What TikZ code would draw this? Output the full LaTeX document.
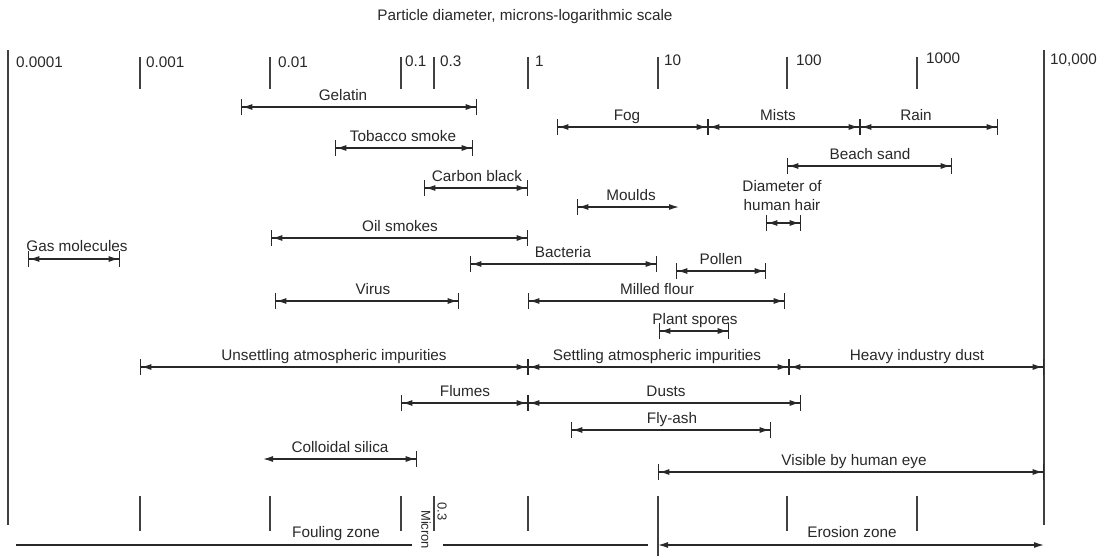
\documentclass[tikz,border=0pt]{standalone}
\usepackage{fontspec}
\setmainfont{Liberation Sans}
\usetikzlibrary{arrows.meta}
\definecolor{ink}{RGB}{40,40,40}
\definecolor{rule}{RGB}{65,65,65}
\tikzset{
  lbl/.style={font=\fontsize{15.3}{18.5}\selectfont, text=ink, inner sep=0pt, anchor=base},
  small/.style={font=\fontsize{13}{15}\selectfont, text=ink, inner sep=0pt},
  axisline/.style={draw=rule, line width=1.6pt},
  ln/.style={draw=ink, line width=1.3pt},
  bb/.style={ln, arrows={Bar[width=16pt]Latex[length=10pt,width=6pt]}-{Latex[length=10pt,width=6pt]Bar[width=16pt]}},
  ba/.style={ln, arrows={Bar[width=16pt]Latex[length=10pt,width=6pt]}-{Latex[length=10pt,width=6pt]}},
  ab/.style={ln, arrows={Latex[length=10pt,width=6pt]}-{Latex[length=10pt,width=6pt]Bar[width=16pt]}},
  aa/.style={ln, arrows={Latex[length=10pt,width=6pt]}-{Latex[length=10pt,width=6pt]}}
}
% #1 style, #2 name, #3 x1, #4 x2, #5 y, #6 label x, #7 label
\newcommand\rangebar[7][bb]{%
  \coordinate (#2-l) at (#3,#5);
  \coordinate (#2-r) at (#4,#5);
  \node[lbl] (#2) at (#6,#5-6.5) {#7};
  \draw[#1] (#2-l) -- (#2-r);
}
\begin{document}
\begin{tikzpicture}[x=1pt,y=-1pt]
\useasboundingbox (0,0) rectangle (1102,556);
% title
\node[lbl] (title) at (525,21) {Particle diameter, microns-logarithmic scale};
% main verticals
\draw[axisline] (8,50) -- (8,525);
\draw[axisline] (1044,50) -- (1044,525);
\foreach \x in {140,270,401,434,528,658,787,917}{
  \draw[axisline] (\x,57) -- (\x,89);
}
\foreach \x in {140,270,401,434,528,787,917}{
  \draw[axisline] (\x,496) -- (\x,531);
}
\draw[axisline] (658,496) -- (658,556);
% scale labels
\node[lbl,anchor=base west] (s1) at (16,68) {0.0001};
\node[lbl,anchor=base west] (s2) at (146,68) {0.001};
\node[lbl,anchor=base west] (s3) at (278,68) {0.01};
\node[lbl,anchor=base west] (s4) at (405,67) {0.1};
\node[lbl,anchor=base west] (s5) at (440,67) {0.3};
\node[lbl,anchor=base west] (s6) at (535,67) {1};
\node[lbl,anchor=base west] (s7) at (664,66) {10};
\node[lbl,anchor=base west] (s8) at (796,66) {100};
\node[lbl,anchor=base west] (s9) at (926,64) {1000};
\node[lbl,anchor=base west] (s10) at (1050,65) {10,000};
% ranges
\rangebar{gel}{241}{477}{107}{343}{Gelatin}
\rangebar{tob}{335}{473}{148}{403}{Tobacco smoke}
\rangebar{carb}{424}{528}{188}{477}{Carbon black}
\rangebar{fog}{557}{708}{127}{627}{Fog}
\rangebar{mist}{708}{860}{127}{778}{Mists}
\rangebar{rain}{860}{998}{127}{916}{Rain}
\rangebar{beach}{787}{952}{166}{870}{Beach sand}
\rangebar[ba]{mould}{577}{679}{207}{631}{Moulds}
\coordinate (hair-l) at (766,223);
\coordinate (hair-r) at (801,223);
\node[lbl,anchor=north,align=center] (hair) at (782,180.5) {Diameter of\\human hair};
\draw[bb] (hair-l) -- (hair-r);
\rangebar{oil}{271}{528}{238}{400}{Oil smokes}
\coordinate (gas-l) at (28,259);
\coordinate (gas-r) at (120,259);
\node[lbl] (gas) at (77,251) {Gas molecules};
\draw[bb] (gas-l) -- (gas-r);
\rangebar{bact}{470}{657}{264}{563}{Bacteria}
\rangebar{pollen}{676}{766}{271}{721}{Pollen}
\rangebar{virus}{275}{459}{301}{373}{Virus}
\rangebar{flour}{528}{785}{301}{657}{Milled flour}
\rangebar{spores}{659}{729}{331}{695}{Plant spores}
\rangebar{unset}{140}{528}{367}{334}{Unsettling atmospheric impurities}
\rangebar{set}{528}{789}{367}{657}{Settling atmospheric impurities}
\rangebar{heavy}{789}{1044}{367}{917}{Heavy industry dust}
\rangebar{flumes}{401}{528}{403}{465}{Flumes}
\rangebar{dusts}{528}{801}{403}{666}{Dusts}
\rangebar{fly}{571}{771}{430}{672}{Fly-ash}
\rangebar[ab]{coll}{263}{417}{459}{340}{Colloidal silica}
\rangebar{vis}{658}{1044}{472}{854}{Visible by human eye}
% bottom zones
\coordinate (foul-a) at (16,545);
\coordinate (foul-b) at (412,545);
\coordinate (foul-c) at (443,545);
\coordinate (foul-d) at (648,545);
\draw[ln] (foul-a) -- (foul-b);
\draw[ln] (foul-c) -- (foul-d);
\node[lbl] (foul) at (336,537) {Fouling zone};
\coordinate (ero-l) at (658,545);
\coordinate (ero-r) at (1044,545);
\draw[aa] (ero-l) -- (ero-r);
\node[lbl] (ero) at (852,537) {Erosion zone};
\node[small,rotate=-90,anchor=north west] (micron) at (431,510) {Micron};
\node[small,rotate=-90,anchor=north west] (pt3) at (447,502) {0.3};
\end{tikzpicture}
\end{document}
